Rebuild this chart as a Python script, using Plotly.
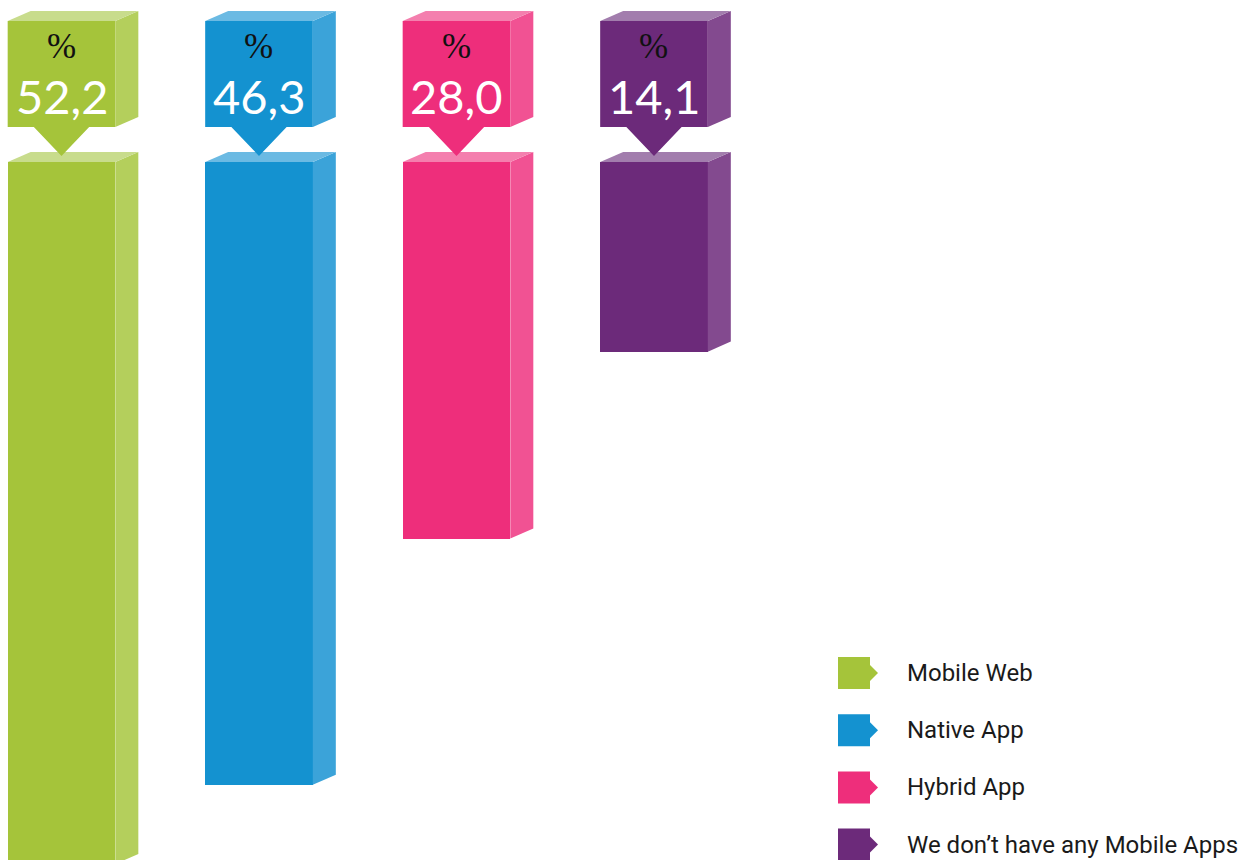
"""3D-style hanging bar chart: mobile strategy shares."""

import plotly.graph_objects as go

categories = ["Mobile Web", "Native App", "Hybrid App", "We don\u2019t have any Mobile Apps"]
values = [52.2, 46.3, 28.0, 14.1]
front_colors = ["#a5c43a", "#1492d0", "#ee2e7b", "#6c2a7a"]
side_colors = ["#b4cf5c", "#3ba3d9", "#f15293", "#834a8f"]
top_colors = ["#c8dc8c", "#6bbae3", "#f47fae", "#a27dad"]

W, H = 1252, 860
BAR_W = 0.545        # bar width in category units
DX, DY = 0.1165, 0.744  # depth offset (x units, value units)
BOX_TOP, BOX_BOTTOM, TIP, TIP_HALF = -10.48, -2.6, -0.45, 0.14
LABEL_SPLIT = -7.06  # boundary between "%" and the number
X_RANGE = [-0.3114, 6.028]
Y_RANGE = [51.9, -12.045]

# legend placement in pixel space (second axis pair)
LEG_X, LEG_Y0, LEG_STEP, LEG_SQ, LEG_TIP = 838, 673, 57.2, 32, 8
LEG_TEXT_X = 905

fig = go.Figure()

x_pos = list(range(len(values)))

fig.add_trace(go.Bar(
    x=x_pos, y=values, base=0, width=BAR_W,
    marker=dict(color=front_colors, line_width=0),
    hoverinfo="skip",
))


def poly(xs, ys, color, xa="x", ya="y"):
    fig.add_trace(go.Scatter(
        x=xs + [xs[0]], y=ys + [ys[0]], mode="lines", fill="toself",
        fillcolor=color, line=dict(width=0, color=color),
        hoverinfo="skip", xaxis=xa, yaxis=ya,
    ))


for i, v in enumerate(values):
    l, r = i - BAR_W / 2, i + BAR_W / 2
    # bar side + top
    poly([r, r + DX, r + DX, r], [0, -DY, v - DY, v], side_colors[i])
    poly([l, l + DX, r + DX, r], [0, -DY, -DY, 0], top_colors[i])
    # label box with pointer
    poly([l, r, r, i + TIP_HALF, i, i - TIP_HALF, l],
         [BOX_TOP, BOX_TOP, BOX_BOTTOM, BOX_BOTTOM, TIP, BOX_BOTTOM, BOX_BOTTOM],
         front_colors[i])
    poly([r, r + DX, r + DX, r], [BOX_TOP, BOX_TOP - DY, BOX_BOTTOM - DY, BOX_BOTTOM], side_colors[i])
    poly([l, l + DX, r + DX, r], [BOX_TOP, BOX_TOP - DY, BOX_TOP - DY, BOX_TOP], top_colors[i])
    fig.add_annotation(x=i, y=LABEL_SPLIT, text="%", showarrow=False,
                       yanchor="bottom", borderpad=0,
                       font=dict(family="Liberation Serif", size=35, color="#111111"))
    fig.add_annotation(x=i, y=LABEL_SPLIT, text=f"{v:.1f}".replace(".", ","),
                       showarrow=False, yanchor="top", borderpad=0,
                       font=dict(family="Lato", size=47, color="white"))

# legend glyphs: square with arrow notch
for i, name in enumerate(categories):
    cy = LEG_Y0 + i * LEG_STEP
    x0, x1 = LEG_X, LEG_X + LEG_SQ
    y0, y1 = cy - LEG_SQ / 2, cy + LEG_SQ / 2
    poly([x0, x1, x1, x1 + LEG_TIP, x1, x1, x0],
         [y0, y0, cy - LEG_TIP, cy, cy + LEG_TIP, y1, y1],
         front_colors[i], xa="x2", ya="y2")
    fig.add_annotation(x=LEG_TEXT_X, y=cy, xref="x2", yref="y2", text=name,
                       showarrow=False, xanchor="left",
                       font=dict(family="Roboto", size=24, color="#1a1a1a"))

hidden = dict(visible=False, showgrid=False, zeroline=False, fixedrange=True)
fig.update_layout(
    width=W, height=H,
    margin=dict(l=0, r=0, t=0, b=0),
    paper_bgcolor="white", plot_bgcolor="white",
    showlegend=False,
    bargap=0,
    xaxis=dict(range=X_RANGE, **hidden),
    yaxis=dict(range=Y_RANGE, **hidden),
    xaxis2=dict(range=[0, W], overlaying="x", anchor="y2", **hidden),
    yaxis2=dict(range=[H, 0], overlaying="y", anchor="x2", **hidden),
)

fig.write_html("out.html", config={"displayModeBar": False},
               post_script="document.body.style.margin='0';")
